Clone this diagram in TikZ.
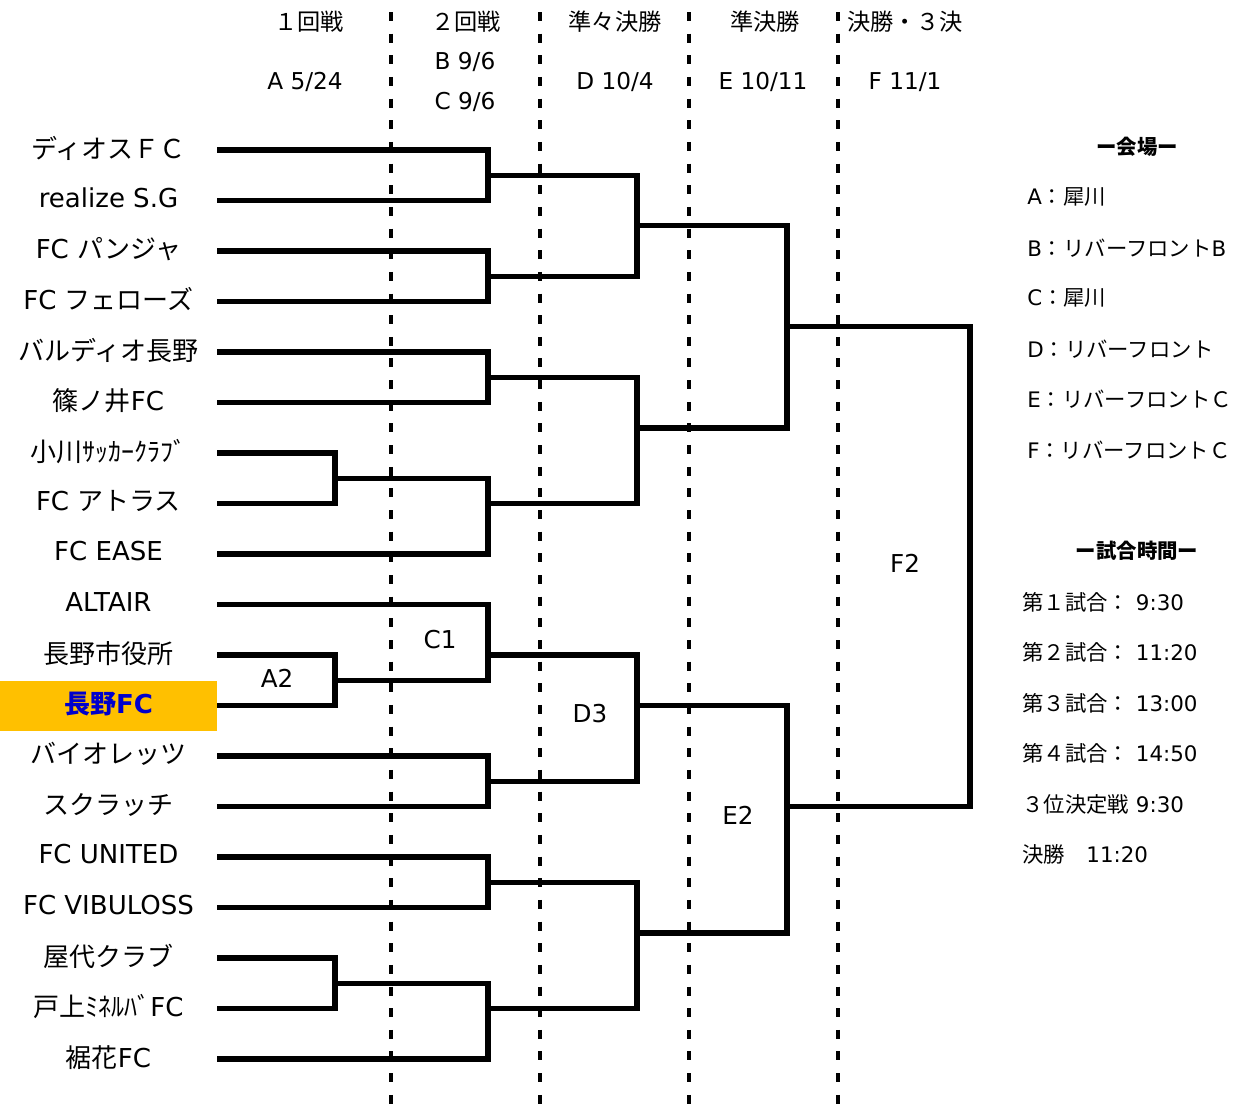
\documentclass[tikz,border=0pt]{standalone}
\usepackage{fontspec}
\setmainfont{Noto Sans CJK JP}
\newfontfamily\lat{DejaVu Sans}
\usepackage{xcolor}
\usepackage{tikz}
\usetikzlibrary{positioning, calc}
\definecolor{ncyellow}{RGB}{255,192,0}
\definecolor{ncblue}{RGB}{0,0,204}

\tikzset{
  team/.style={minimum width=5.425cm,minimum height=1.25cm,inner sep=0pt,text depth=0.4em,font=\fontsize{18.5}{20}\selectfont},
  hdr/.style={inner sep=0pt,font=\fontsize{16.5}{18}\selectfont},
  lbl/.style={inner sep=0pt,font=\lat\fontsize{17.5}{20}\selectfont},
  info/.style={inner sep=0pt,anchor=west,font=\fontsize{15.2}{17}\selectfont},
  infohead/.style={inner sep=0pt,font=\bfseries\fontsize{14.5}{16}\selectfont},
  bline/.style={line width=3.9pt},
  sep/.style={line width=2.85pt,dash pattern=on 6.4pt off 9pt}
}

\begin{document}
\begin{tikzpicture}[x=0.025cm,y=-0.025cm]
\useasboundingbox (0,0) rectangle (1240,1112);

% round separators
\draw[sep] (391,12) -- (391,1112);
\draw[sep] (540,12) -- (540,1112);
\draw[sep] (689,12) -- (689,1112);
\draw[sep] (838,12) -- (838,1112);

% round headers
\node[hdr] (r1) at (309,22) {１回戦};
\node[hdr] (r1d) at (305,82) {\lat A 5/24};
\node[hdr] (r2) at (466,22) {２回戦};
\node[hdr] (r2b) at (465,62) {\lat B 9/6};
\node[hdr] (r2c) at (465,102) {\lat C 9/6};
\node[hdr] (r3) at (615,22) {準々決勝};
\node[hdr] (r3d) at (615,82) {\lat D 10/4};
\node[hdr] (r4) at (765,22) {準決勝};
\node[hdr] (r4d) at (763,82) {\lat E 10/11};
\node[hdr] (r5) at (905,22) {決勝・３決};
\node[hdr] (r5d) at (905,82) {\lat F 11/1};

% teams
\node[team] (t1) at (108.5,150) {ディオスＦＣ};
\node[team] (t2) at (108.5,200.5) {\lat realize S.G};
\node[team] (t3) at (108.5,251) {{\lat FC }パンジャ};
\node[team] (t4) at (108.5,301.5) {{\lat FC }フェローズ};
\node[team] (t5) at (108.5,352) {バルディオ長野};
\node[team] (t6) at (108.5,402.5) {篠ノ井{\lat FC}};
\node[team] (t7) at (108.5,453) {小川ｻｯｶｰｸﾗﾌﾞ};
\node[team] (t8) at (108.5,503.5) {{\lat FC }アトラス};
\node[team] (t9) at (108.5,554) {\lat FC EASE};
\node[team] (t10) at (108.5,604.5) {\lat ALTAIR};
\node[team] (t11) at (108.5,655) {長野市役所};
\node[team,fill=ncyellow,text=ncblue,font=\bfseries\fontsize{18.5}{20}\selectfont] (t12) at (108.5,705.5) {長野{\lat FC}};
\node[team] (t13) at (108.5,756) {バイオレッツ};
\node[team] (t14) at (108.5,806.5) {スクラッチ};
\node[team] (t15) at (108.5,857) {\lat FC UNITED};
\node[team] (t16) at (108.5,907.5) {\lat FC VIBULOSS};
\node[team] (t17) at (108.5,958) {屋代クラブ};
\node[team] (t18) at (108.5,1008.5) {戸上ﾐﾈﾙﾊﾞ{\lat FC}};
\node[team] (t19) at (108.5,1059) {裾花{\lat FC}};

% match points
\coordinate (a1) at (335,478.25);
\coordinate (a2) at (335,680.25);
\coordinate (a3) at (335,983.25);
\coordinate (b1) at (488,175.25);
\coordinate (b2) at (488,276.25);
\coordinate (b3) at (488,377.25);
\coordinate (b4) at (488,503.5);
\coordinate (b5) at (488,655);
\coordinate (b6) at (488,781.25);
\coordinate (b7) at (488,882.25);
\coordinate (b8) at (488,1008.5);
\coordinate (c1) at (637,225.75);
\coordinate (c2) at (637,427.75);
\coordinate (c3) at (637,705.5);
\coordinate (c4) at (637,932.75);
\coordinate (d1) at (787,326.75);
\coordinate (d2) at (787,806.5);
\coordinate (f1) at (970,566);

% bracket
\draw[bline] (t7.east) -| (a1) |- (t8.east);
\draw[bline] (t11.east) -| (a2) |- (t12.east);
\draw[bline] (t17.east) -| (a3) |- (t18.east);
\draw[bline] (t1.east) -| (b1) |- (t2.east);
\draw[bline] (t3.east) -| (b2) |- (t4.east);
\draw[bline] (t5.east) -| (b3) |- (t6.east);
\draw[bline] (a1) -| (b4) |- (t9.east);
\draw[bline] (t10.east) -| (b5) |- (a2);
\draw[bline] (t13.east) -| (b6) |- (t14.east);
\draw[bline] (t15.east) -| (b7) |- (t16.east);
\draw[bline] (a3) -| (b8) |- (t19.east);
\draw[bline] (b1) -| (c1) |- (b2);
\draw[bline] (b3) -| (c2) |- (b4);
\draw[bline] (b5) -| (c3) |- (b6);
\draw[bline] (b7) -| (c4) |- (b8);
\draw[bline] (c1) -| (d1) |- (c2);
\draw[bline] (c3) -| (d2) |- (c4);
\draw[bline] (d1) -| (f1) |- (d2);

% match labels
\node[lbl] (mA2) at (277,678) {A2};
\node[lbl] (mC1) at (440,640) {C1};
\node[lbl] (mD3) at (590,714) {D3};
\node[lbl] (mE2) at (738,815) {E2};
\node[lbl] (mF2) at (905,563) {F2};

% venues
\node[infohead] (vh) at (1137,147) {ー会場ー};
\node[info] (v1) at (1027,197) {{\lat A}：犀川};
\node[info] (v2) at (1027,248) {{\lat B}：リバーフロント{\lat B}};
\node[info] (v3) at (1027,298) {{\lat C}：犀川};
\node[info] (v4) at (1027,349) {{\lat D}：リバーフロント};
\node[info] (v5) at (1027,399) {{\lat E}：リバーフロントＣ};
\node[info] (v6) at (1027,450) {{\lat F}：リバーフロントＣ};

% times
\node[infohead] (th) at (1137,551) {ー試合時間ー};
\node[info] (k1) at (1022,602) {第１試合：{\lat\ 9:30}};
\node[info] (k2) at (1022,652) {第２試合：{\lat\ 11:20}};
\node[info] (k3) at (1022,703) {第３試合：{\lat\ 13:00}};
\node[info] (k4) at (1022,753) {第４試合：{\lat\ 14:50}};
\node[info] (k5) at (1022,804) {３位決定戦{\lat\ 9:30}};
\node[info] (k6) at (1022,854) {決勝　{\lat 11:20}};
\end{tikzpicture}
\end{document}
